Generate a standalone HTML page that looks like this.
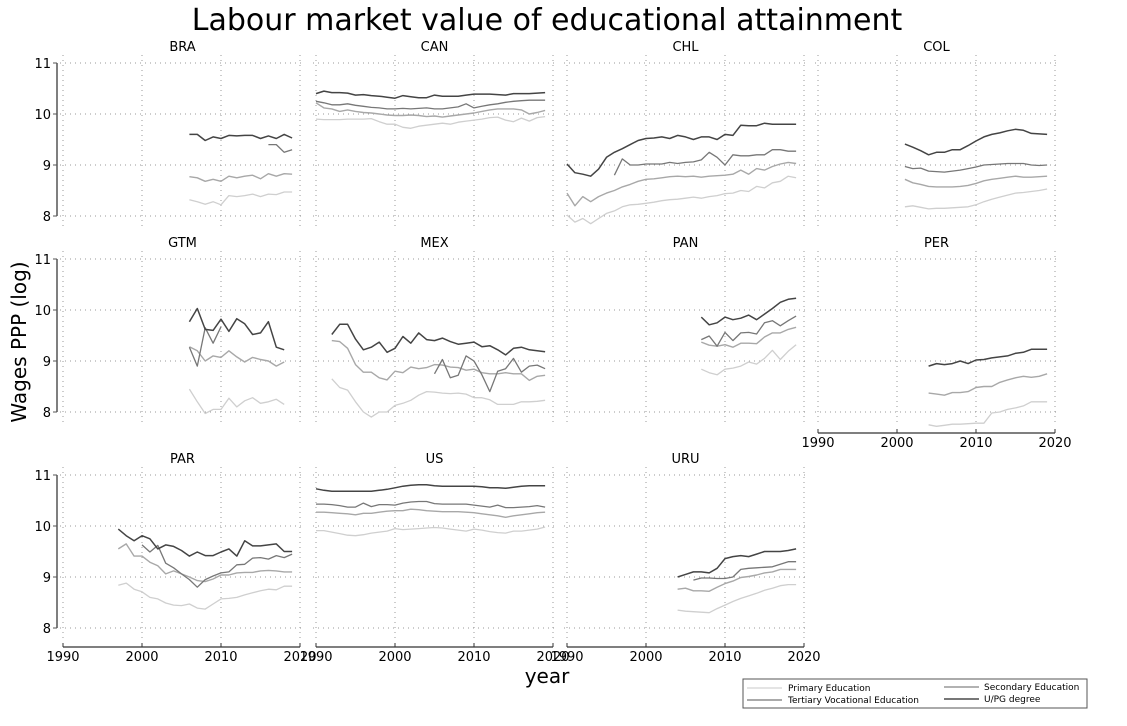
<!DOCTYPE html>
<html><head><meta charset="utf-8"><style>
body{margin:0;background:#fff;}
svg text{font-family:"DejaVu Sans","Liberation Sans",sans-serif;fill:#000;}
</style></head><body>
<svg id="chart" width="1127" height="721" viewBox="0 0 1127 721" xmlns="http://www.w3.org/2000/svg">
<text x="547" y="30" font-size="30" text-anchor="middle">Labour market value of educational attainment</text>
<text transform="translate(26,342) rotate(-90)" font-size="20" text-anchor="middle">Wages PPP (log)</text>
<text x="547" y="683" font-size="20" text-anchor="middle">year</text>
<g id="panels"></g>
<g>
<rect x="743" y="679" width="344" height="29" fill="#fff" stroke="#555" stroke-width="1"/>
<line x1="747" y1="688" x2="782" y2="688" stroke="#c8c8c8" stroke-width="1"/>
<text x="788" y="691" font-size="9">Primary Education</text>
<line x1="747" y1="700" x2="782" y2="700" stroke="#aaa" stroke-width="2"/>
<text x="788" y="703" font-size="9">Tertiary Vocational Education</text>
<line x1="944" y1="687" x2="979" y2="687" stroke="#666" stroke-width="1"/>
<text x="984" y="690" font-size="9">Secondary Education</text>
<line x1="944" y1="699" x2="979" y2="699" stroke="#777" stroke-width="2"/>
<text x="984" y="702" font-size="9">U/PG degree</text>
</g>
</svg>
<script>
const xTicks=[1990,2000,2010,2020];
const yTicks=[8,9,10,11];
const countries=["BRA","CAN","CHL","COL","GTM","MEX","PAN","PER","PAR","US","URU"];
// series: [startYear, values]
const BRA_primary=[2006,[8.32,8.28,8.23,8.28,8.22,8.4,8.38,8.4,8.43,8.38,8.43,8.42,8.47,8.47]];
const BRA_tertiary=[2006,[8.77,8.75,8.68,8.72,8.68,8.78,8.75,8.78,8.8,8.73,8.83,8.78,8.83,8.82]];
const BRA_secondary=[2016,[9.4,9.4,9.25,9.3]];
const BRA_upg=[2006,[9.6,9.6,9.48,9.55,9.52,9.58,9.57,9.58,9.58,9.52,9.57,9.52,9.6,9.53]];
const CAN_primary=[1990,[9.9,9.89,9.89,9.89,9.9,9.9,9.9,9.91,9.85,9.8,9.8,9.74,9.72,9.76,9.78,9.8,9.82,9.8,9.84,9.86,9.88,9.9,9.93,9.94,9.88,9.85,9.92,9.86,9.93,9.95]];
const CAN_tertiary=[1990,[10.22,10.12,10.1,10.05,10.08,10.05,10.03,10.02,10.0,9.98,9.97,9.97,9.98,9.97,9.95,9.96,9.94,9.96,9.98,10.0,10.02,10.05,10.08,10.1,10.1,10.1,10.08,10.0,10.03,10.07]];
const CAN_secondary=[1990,[10.25,10.22,10.18,10.18,10.2,10.17,10.15,10.13,10.12,10.1,10.1,10.11,10.1,10.11,10.12,10.1,10.1,10.12,10.14,10.2,10.12,10.15,10.18,10.2,10.23,10.25,10.26,10.27,10.27,10.27]];
const CAN_upg=[1990,[10.4,10.45,10.42,10.42,10.41,10.37,10.38,10.36,10.35,10.33,10.31,10.36,10.34,10.32,10.32,10.37,10.35,10.35,10.35,10.37,10.39,10.39,10.39,10.38,10.37,10.4,10.4,10.4,10.41,10.42]];
const CHL_primary=[1990,[8.02,7.88,7.95,7.85,7.95,8.05,8.1,8.18,8.22,8.23,8.25,8.27,8.3,8.32,8.33,8.35,8.37,8.35,8.38,8.4,8.44,8.45,8.5,8.48,8.58,8.55,8.65,8.68,8.78,8.75]];
const CHL_tertiary=[1990,[8.45,8.2,8.38,8.28,8.38,8.45,8.5,8.57,8.62,8.68,8.72,8.73,8.75,8.77,8.78,8.77,8.78,8.76,8.78,8.79,8.8,8.82,8.9,8.82,8.93,8.9,8.97,9.02,9.05,9.03]];
const CHL_secondary=[1996,[8.8,9.12,9.0,9.0,9.02,9.02,9.02,9.05,9.03,9.05,9.06,9.1,9.25,9.15,9.0,9.2,9.18,9.18,9.2,9.2,9.3,9.3,9.27,9.27]];
const CHL_upg=[1990,[9.02,8.85,8.82,8.78,8.92,9.15,9.25,9.32,9.4,9.48,9.52,9.53,9.55,9.52,9.58,9.55,9.5,9.55,9.55,9.5,9.6,9.58,9.78,9.77,9.77,9.82,9.8,9.8,9.8,9.8]];
const COL_primary=[2001,[8.18,8.2,8.17,8.14,8.15,8.15,8.16,8.17,8.18,8.22,8.28,8.33,8.37,8.41,8.45,8.46,8.48,8.5,8.53]];
const COL_tertiary=[2001,[8.72,8.65,8.62,8.58,8.57,8.57,8.57,8.58,8.6,8.64,8.69,8.72,8.74,8.76,8.78,8.76,8.76,8.77,8.78]];
const COL_secondary=[2001,[8.97,8.93,8.94,8.88,8.87,8.86,8.88,8.9,8.93,8.96,9.0,9.01,9.02,9.03,9.03,9.03,9.0,8.99,9.0]];
const COL_upg=[2001,[9.41,9.35,9.28,9.2,9.25,9.25,9.3,9.3,9.38,9.47,9.55,9.6,9.63,9.67,9.7,9.68,9.62,9.61,9.6]];
const GTM_primary=[2006,[8.45,8.2,7.97,8.05,8.05,8.27,8.1,8.22,8.28,8.17,8.2,8.25,8.15]];
const GTM_tertiary=[2006,[9.28,9.2,9.0,9.1,9.07,9.2,9.08,8.98,9.07,9.03,9.0,8.9,8.98]];
const GTM_secondary=[2006,[9.27,8.9,9.65,9.35,9.67]];
const GTM_upg=[2006,[9.77,10.03,9.62,9.6,9.82,9.58,9.83,9.73,9.52,9.55,9.77,9.27,9.22]];
const MEX_primary=[1992,[8.65,8.48,8.43,8.2,8.0,7.9,8.0,8.0,8.13,8.17,8.23,8.33,8.4,8.39,8.37,8.36,8.37,8.35,8.28,8.28,8.24,8.15,8.15,8.15,8.2,8.2,8.21,8.23]];
const MEX_tertiary=[1992,[9.4,9.38,9.25,8.93,8.78,8.78,8.67,8.63,8.8,8.77,8.88,8.85,8.87,8.93,8.92,8.88,8.87,8.82,8.84,8.77,8.75,8.75,8.77,8.75,8.75,8.62,8.7,8.72]];
const MEX_secondary=[2005,[8.75,9.03,8.67,8.72,9.1,9.0,8.73,8.4,8.8,8.85,9.05,8.78,8.9,8.92,8.85]];
const MEX_upg=[1992,[9.52,9.72,9.72,9.43,9.22,9.27,9.37,9.17,9.25,9.48,9.35,9.55,9.42,9.4,9.45,9.38,9.33,9.35,9.37,9.28,9.3,9.22,9.12,9.25,9.27,9.22,9.2,9.18]];
const PAN_primary=[2007,[8.84,8.77,8.73,8.84,8.86,8.9,8.98,8.94,9.05,9.21,9.03,9.19,9.32]];
const PAN_tertiary=[2007,[9.37,9.31,9.29,9.32,9.27,9.35,9.35,9.34,9.47,9.55,9.55,9.62,9.66]];
const PAN_secondary=[2007,[9.42,9.49,9.29,9.56,9.4,9.55,9.56,9.53,9.75,9.79,9.69,9.79,9.88]];
const PAN_upg=[2007,[9.86,9.71,9.75,9.86,9.81,9.84,9.9,9.81,9.92,10.03,10.15,10.21,10.23]];
const PER_primary=[2004,[7.75,7.72,7.74,7.76,7.76,7.77,7.78,7.78,7.98,8.0,8.05,8.08,8.12,8.2,8.2,8.2]];
const PER_tertiary=[2004,[8.37,8.35,8.33,8.38,8.38,8.4,8.48,8.5,8.5,8.58,8.63,8.67,8.7,8.68,8.7,8.75]];
const PER_secondary=[2004,[]];
const PER_upg=[2004,[8.9,8.95,8.93,8.95,9.0,8.95,9.02,9.03,9.06,9.08,9.1,9.15,9.17,9.23,9.23,9.23]];
const PAR_primary=[1997,[8.84,8.88,8.76,8.71,8.6,8.57,8.49,8.45,8.44,8.47,8.39,8.37,8.47,8.57,8.58,8.6,8.65,8.69,8.73,8.76,8.75,8.82,8.82]];
const PAR_tertiary=[1997,[9.55,9.65,9.41,9.41,9.29,9.22,9.06,9.12,9.06,9.0,8.93,8.91,8.96,9.04,9.04,9.08,9.09,9.09,9.12,9.13,9.12,9.1,9.1]];
const PAR_secondary=[2000,[9.63,9.49,9.62,9.27,9.18,9.06,8.95,8.8,8.95,9.02,9.08,9.1,9.24,9.25,9.37,9.38,9.35,9.42,9.38,9.45]];
const PAR_upg=[1997,[9.94,9.81,9.71,9.81,9.75,9.55,9.63,9.6,9.52,9.41,9.49,9.42,9.42,9.49,9.55,9.41,9.71,9.61,9.61,9.63,9.65,9.5,9.5]];
const US_primary=[1990,[9.91,9.91,9.88,9.85,9.82,9.81,9.83,9.86,9.88,9.9,9.95,9.93,9.94,9.95,9.96,9.97,9.96,9.94,9.92,9.9,9.94,9.92,9.89,9.87,9.86,9.9,9.9,9.92,9.94,9.98]];
const US_tertiary=[1990,[10.27,10.27,10.26,10.25,10.24,10.22,10.25,10.25,10.27,10.29,10.3,10.3,10.33,10.32,10.3,10.29,10.28,10.28,10.28,10.27,10.26,10.24,10.22,10.2,10.17,10.2,10.22,10.24,10.26,10.27]];
const US_secondary=[1990,[10.43,10.43,10.42,10.4,10.37,10.37,10.45,10.38,10.42,10.42,10.41,10.45,10.47,10.48,10.48,10.44,10.43,10.43,10.43,10.43,10.41,10.39,10.37,10.41,10.36,10.36,10.37,10.38,10.4,10.37]];
const US_upg=[1990,[10.73,10.7,10.68,10.68,10.68,10.68,10.68,10.68,10.7,10.72,10.75,10.78,10.8,10.81,10.81,10.79,10.78,10.78,10.78,10.78,10.78,10.77,10.75,10.75,10.74,10.76,10.78,10.79,10.79,10.79]];
const URU_primary=[2004,[8.35,8.33,8.32,8.31,8.3,8.38,8.45,8.52,8.58,8.63,8.68,8.74,8.78,8.83,8.85,8.85]];
const URU_tertiary=[2004,[8.76,8.78,8.73,8.73,8.72,8.8,8.87,8.92,8.99,9.01,9.04,9.08,9.1,9.15,9.15,9.15]];
const URU_secondary=[2006,[8.94,8.98,8.98,8.97,8.97,9.0,9.15,9.17,9.18,9.19,9.2,9.25,9.3,9.3]];
const URU_upg=[2004,[9.0,9.05,9.1,9.1,9.08,9.17,9.36,9.4,9.42,9.4,9.45,9.5,9.5,9.5,9.52,9.55]];

const dataMap={BRA:[BRA_primary,BRA_tertiary,BRA_secondary,BRA_upg],CAN:[CAN_primary,CAN_tertiary,CAN_secondary,CAN_upg],CHL:[CHL_primary,CHL_tertiary,CHL_secondary,CHL_upg],COL:[COL_primary,COL_tertiary,COL_secondary,COL_upg],GTM:[GTM_primary,GTM_tertiary,GTM_secondary,GTM_upg],MEX:[MEX_primary,MEX_tertiary,MEX_secondary,MEX_upg],PAN:[PAN_primary,PAN_tertiary,PAN_secondary,PAN_upg],PER:[PER_primary,PER_tertiary,PER_secondary,PER_upg],PAR:[PAR_primary,PAR_tertiary,PAR_secondary,PAR_upg],US:[US_primary,US_tertiary,US_secondary,US_upg],URU:[URU_primary,URU_tertiary,URU_secondary,URU_upg]};
const seriesNames=["primary","tertiary","secondary","upg"];
const colors=["#cfcfcf","#a8a8a8","#777","#444"];
const widths=[1.3,1.4,1.3,1.5];

const NS="http://www.w3.org/2000/svg";
const root=document.getElementById('panels');
const colX=[63,316,567,818], rowY=[63,259,475], pw=237, ppu=51;
function mk(tag,attrs,parent){const e=document.createElementNS(NS,tag);for(const k in attrs)e.setAttribute(k,attrs[k]);parent.appendChild(e);return e;}
countries.forEach((c,i)=>{
  const col=i%4,row=Math.floor(i/4);
  const x0=colX[col],y11=rowY[row];
  const xs=yr=>x0+(yr-1990)/30*pw;
  const ys=v=>y11+(11-v)*ppu;
  const g=mk('g',{},root);
  
  
  const t=mk('text',{x:x0+pw/2+ (col==0?1:0),y:y11-12,'font-size':13,'text-anchor':'middle'},g);
  t.textContent=c;
  
  
  yTicks.forEach(v=>{const l=mk('line',{x1:x0-3,x2:x0+pw+4,y1:ys(v),y2:ys(v),stroke:'#999','stroke-width':1,'stroke-dasharray':'1,4'},g);
    
    });
  xTicks.forEach(yr=>{const l=mk('line',{x1:xs(yr),x2:xs(yr),y1:y11-8,y2:ys(8)+10,stroke:'#999','stroke-width':1,'stroke-dasharray':'1,4'},g);
    
    });
  if(col==0){
    const sp=mk('line',{x1:x0-6,x2:x0-6,y1:ys(11),y2:ys(8),stroke:'#555','stroke-width':1.5},g);
    
    
    yTicks.forEach(v=>{mk('line',{x1:x0-10,x2:x0-6,y1:ys(v),y2:ys(v),stroke:'#555','stroke-width':1},g);
      const tl=mk('text',{x:x0-12,y:ys(v)+5,'font-size':13,'text-anchor':'end'},g);tl.textContent=v;
      
      });
  }
  const showX=(row==2)||(c=="PER");
  if(showX){
    const by=ys(8)+(c=="PER"?21:19);
    const ax=mk('line',{x1:xs(1990),x2:xs(2020),y1:by,y2:by,stroke:'#333','stroke-width':1.2},g);
    
    
    xTicks.forEach(yr=>{mk('line',{x1:xs(yr),x2:xs(yr),y1:by,y2:by-4,stroke:'#333','stroke-width':1},g);
      const tl=mk('text',{x:xs(yr),y:by+14,'font-size':13,'text-anchor':'middle'},g);tl.textContent=yr;
      
      });
  }
  dataMap[c].forEach((s,k)=>{
    const [start,vals]=s; if(!vals.length)return;
    const pts=vals.map((v,j)=>xs(start+j).toFixed(1)+','+ys(v).toFixed(1)).join(' ');
    const p=mk('polyline',{points:pts,fill:'none',stroke:colors[k],'stroke-width':widths[k],'stroke-linejoin':'round'},g);
    
    
  });
});
</script>
</body></html>
